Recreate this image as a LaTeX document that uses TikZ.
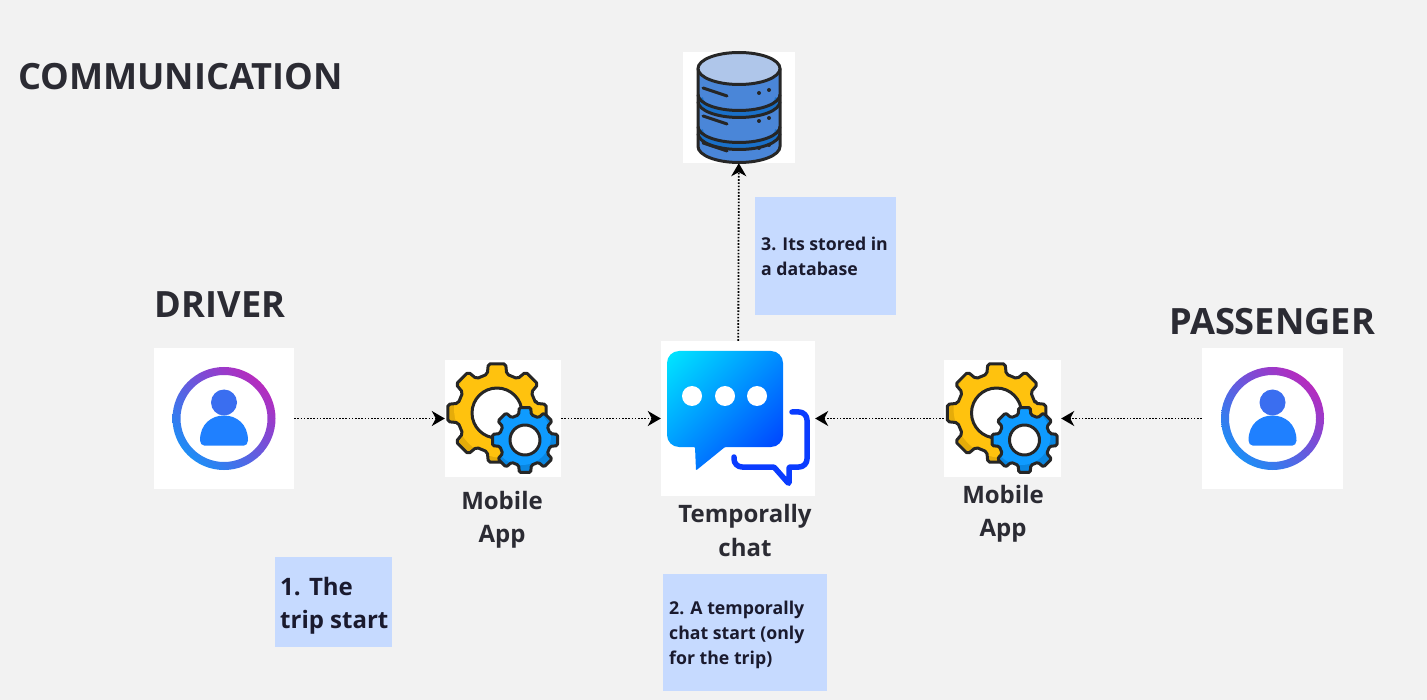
\documentclass[tikz,border=0pt]{standalone}
\usepackage{fontspec}
\setmainfont{Open Sans}
\usepackage{xcolor}
\usepackage{tikz}
\usetikzlibrary{arrows.meta,positioning,shadings}
\definecolor{pagegray}{HTML}{F2F2F2}
\definecolor{notefill}{HTML}{C6DAFF}
\definecolor{inkdark}{HTML}{2B2B33}
\definecolor{inknote}{HTML}{1A1A2E}
\definecolor{gearlight}{HTML}{FFC20E}
\definecolor{geardark}{HTML}{E5AC0A}
\definecolor{cogblue}{HTML}{0F9BFF}
\definecolor{cogdark}{HTML}{0A86E0}
\definecolor{dbbody}{HTML}{4A86D8}
\definecolor{dbtop}{HTML}{AFC6EA}
\definecolor{dbstripe}{HTML}{1A70C8}
\definecolor{ringpurple}{HTML}{D818B0}
\definecolor{ringblue}{HTML}{00A4FF}
\definecolor{ringmid}{HTML}{6458E0}
\definecolor{headblue}{HTML}{3A6EF0}
\definecolor{bodyblue}{HTML}{1F80FF}
\definecolor{chatcyan}{HTML}{00E8FF}
\definecolor{chatblue}{HTML}{0030FF}
\definecolor{tailblue}{HTML}{0A3CFF}
\newcommand{\gearoutline}[2]{(-14:#2) \foreach \i [evaluate=\i as \a using \i*45] in {0,...,7} {-- (\a-14:#2) -- (\a-10:#1) -- (\a+10:#1) -- (\a+14:#2)} -- cycle}
\tikzset{
  iconbox/.style={fill=white,draw=none,inner sep=0pt},
  notebox/.style={fill=notefill,draw=none,inner sep=0pt,anchor=north west},
  notetext/.style={anchor=west,align=left,inner sep=0pt,text=inknote,font=\bfseries},
  capt/.style={align=center,inner sep=0pt,text=inkdark,font=\fontsize{24}{33.5}\selectfont\bfseries},
  headline/.style={inner sep=0pt,text=inkdark,font=\fontsize{36.2}{40}\selectfont\bfseries},
  flowedge/.style={-{Stealth[length=13pt,width=15pt,inset=4pt]},black,line width=1.8pt,
    dash pattern=on 1.6pt off 1.6pt},
  outln/.style={draw=black!85,line width=3pt,line join=round},
  personicon/.pic={
    \shade[even odd rule,lower left=ringblue,upper right=ringpurple,
      upper left=ringmid,lower right=ringmid]
      (0,0) circle (51.5) (0,0) circle (43.5);
    \fill[headblue] (0,-16) circle (13);
    \fill[bodyblue] (-24,22) .. controls (-24,5) and (-12,-3) .. (0,-3)
      .. controls (12,-3) and (24,5) .. (24,22) .. controls (24,25) and (22,27) .. (20,27)
      -- (-20,27) .. controls (-22,27) and (-24,25) .. (-24,22) -- cycle;
  },
  gearicon/.pic={
    \begin{scope}[shift={(-6,-5.5)},rounded corners=2pt]
      \fill[geardark] \gearoutline{50}{40} ;
      \begin{scope}
        \clip \gearoutline{50}{40} ;
        \fill[gearlight,sharp corners] (7,-5) circle (50);
      \end{scope}
      \draw[outln] \gearoutline{50}{40} ;
      \filldraw[outln,fill=white] (0,0) circle (25);
    \end{scope}
    \begin{scope}[shift={(22,21.5)},rounded corners=1.5pt]
      \fill[cogdark] \gearoutline{33}{26} ;
      \begin{scope}
        \clip \gearoutline{33}{26} ;
        \fill[cogblue,sharp corners] (-3,-4) circle (29);
      \end{scope}
      \draw[outln] \gearoutline{33}{26} ;
      \filldraw[outln,fill=white] (0,0) circle (15);
    \end{scope}
  },
  chaticon/.pic={
    \shade[upper left=chatcyan,lower right=chatblue,upper right=chatblue!50!chatcyan,
      lower left=chatblue!50!chatcyan]
      [rounded corners=12pt] (-71,-67.5) -- (45,-67.5) -- (45,28.5)
      [rounded corners=1pt] -- (-13,28.5) -- (-42,52) -- (-43,28.5)
      [rounded corners=12pt] -- (-71,28.5) -- cycle;
    \foreach \x in {-46,-13,19} {\fill[white] (\x,-22.5) circle (10);}
    \draw[tailblue,line width=5.5pt,line cap=round,line join=round]
      [rounded corners=8pt] (54,-6.5) -- (69,-6.5) -- (69,48.5)
      [rounded corners=1pt] -- (51,48.5) -- (51,65.5) -- (36,48.5)
      [rounded corners=8pt] -- (-4,48.5) -- (-4,38.5);
  },
  dbicon/.pic={
    \fill[dbbody] (-41,-39) -- (-41,39) arc[start angle=180,end angle=0,x radius=41,y radius=16]
      -- (41,-39) -- cycle;
    \foreach \y in {-13,19} {
      \draw[dbstripe,line width=6pt] (-39,\y+3.5) arc[start angle=180,end angle=0,x radius=39,y radius=16];
      \draw[black!85,line width=3pt] (-41,\y) arc[start angle=180,end angle=0,x radius=41,y radius=16];
      \draw[black!85,line width=3pt] (-41,\y+7) arc[start angle=180,end angle=0,x radius=41,y radius=16];
    }
    \draw[outln] (-41,-39) -- (-41,39) arc[start angle=180,end angle=0,x radius=41,y radius=16] -- (41,-39);
    \filldraw[outln,fill=dbtop] (0,-39) ellipse [x radius=41,y radius=16];
    \foreach \y in {0,28,55} {
      \draw[black!85,line width=3pt,line cap=round] (-36,-19.5+\y) -- (-12,-11.5+\y);
      \fill[black!85] (20,-14.5+\y) circle (2) (30,-17.5+\y) circle (2);
    }
  },
}
\begin{document}
\begin{tikzpicture}[x=1pt,y=-1pt]
  \useasboundingbox[fill=pagegray] (0,0) rectangle (1427,700);
  % boxes behind the icons
  \node[iconbox,minimum width=140pt,minimum height=141pt] (nDriver) at (224,418.5) {};
  \node[iconbox,minimum width=116pt,minimum height=117pt] (nAppL) at (503,418.5) {};
  \node[iconbox,minimum width=154pt,minimum height=155pt] (nChat) at (738,418.5) {};
  \node[iconbox,minimum width=117pt,minimum height=117pt] (nAppR) at (1002.5,418.5) {};
  \node[iconbox,minimum width=141pt,minimum height=141pt] (nPass) at (1272.5,418.5) {};
  \node[iconbox,minimum width=112pt,minimum height=111pt] (nData) at (739,107.5) {};
  \pic at (nDriver) {personicon};
  \pic at (nPass) {personicon};
  \pic at (nAppL) {gearicon};
  \pic at (nAppR) {gearicon};
  \pic at (nChat) {chaticon};
  \pic at (nData) {dbicon};
  \draw[flowedge] (nDriver) -- (nAppL);
  \draw[flowedge] (nAppL) -- (nChat);
  \draw[flowedge] (nPass) -- (nAppR);
  \draw[flowedge] (nAppR) -- (nChat);
  \draw[flowedge] (nChat) -- (nData);
  % titles
  \node[headline,anchor=west] (tComm) at (18,77) {COMMUNICATION};
  \node[headline] (tDriver) at (220,305) {DRIVER};
  \node[headline] (tPass) at (1272,322) {PASSENGER};
  \node[capt] (tAppL) at (502,520) {Mobile\\App};
  \node[capt] (tChat) at (745,530.5) {Temporally\\chat};
  \node[capt] (tAppR) at (1003,514) {Mobile\\App};
  % notes
  \node[notebox,minimum width=117pt,minimum height=90pt] (bNote1) at (275,557) {};
  \node[notetext,font=\fontsize{24}{33}\selectfont\bfseries] (tNote1) at (280,605.5) {1. The\\trip start};
  \node[notebox,minimum width=164pt,minimum height=117pt] (bNote2) at (663,574) {};
  \node[notetext,font=\fontsize{17.7}{25}\selectfont\bfseries] (tNote2) at (669,635) {2. A temporally\\chat start (only\\for the trip)};
  \node[notebox,minimum width=141pt,minimum height=118pt] (bNote3) at (755,197) {};
  \node[notetext,font=\fontsize{17.7}{25}\selectfont\bfseries] (tNote3) at (761,256.5) {3. Its stored in\\a database};
\end{tikzpicture}
\end{document}
